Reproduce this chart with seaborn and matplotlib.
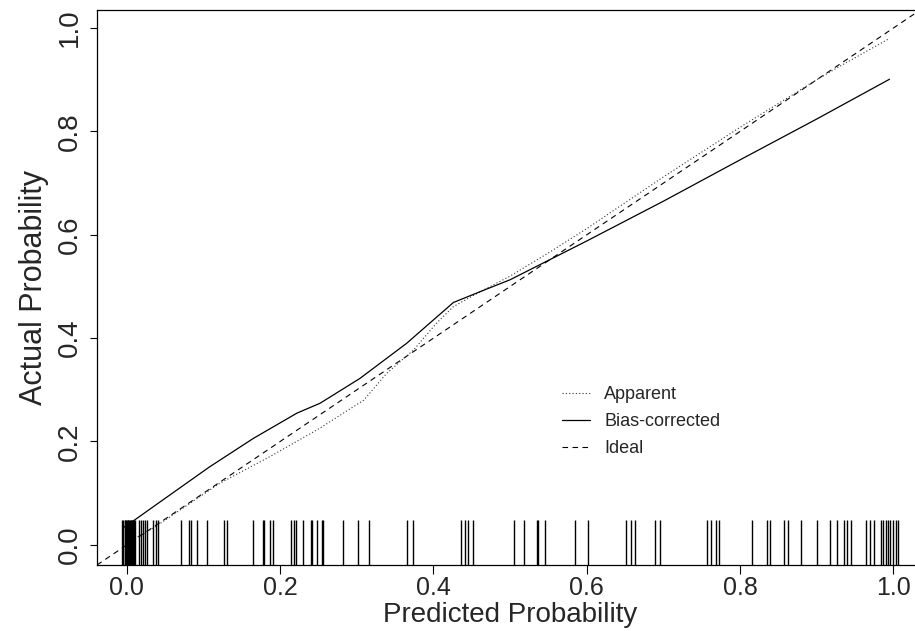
import numpy as np
import pandas as pd
import matplotlib
matplotlib.use("Agg")
import matplotlib.pyplot as plt
import seaborn as sns

# calibration curves
apparent_x = [-0.005, 0.034, 0.121, 0.187, 0.252, 0.309, 0.339, 0.374, 0.404, 0.426,
              0.461, 0.50, 0.55, 0.60, 0.70, 0.80, 0.90, 0.93, 0.995]
apparent_y = [0.000, 0.032, 0.119, 0.171, 0.226, 0.280, 0.332, 0.377, 0.429, 0.461,
              0.490, 0.520, 0.565, 0.612, 0.712, 0.808, 0.900, 0.926, 0.980]

bias_x = [-0.005, 0.010, 0.047, 0.108, 0.165, 0.222, 0.252, 0.304, 0.365, 0.426,
          0.461, 0.50, 0.54, 0.60, 0.70, 0.80, 0.90, 0.995]
bias_y = [0.033, 0.048, 0.087, 0.151, 0.206, 0.255, 0.274, 0.322, 0.390, 0.469,
          0.490, 0.513, 0.543, 0.588, 0.665, 0.745, 0.824, 0.901]

# predicted probabilities shown as the rug
rug_x = [-0.007, -0.005, -0.003, -0.002, -0.001, 0.0, 0.001, 0.002, 0.003, 0.004,
         0.005, 0.006, 0.007, 0.008, 0.009, 0.010, 0.016, 0.019, 0.021, 0.024,
         0.026, 0.034, 0.038, 0.041, 0.070, 0.081, 0.083, 0.092, 0.104, 0.127,
         0.130, 0.164, 0.177, 0.179, 0.187, 0.190, 0.214, 0.218, 0.220, 0.230,
         0.240, 0.242, 0.248, 0.254, 0.256, 0.282, 0.301, 0.316, 0.366, 0.373,
         0.436, 0.441, 0.445, 0.451, 0.505, 0.518, 0.535, 0.537, 0.546, 0.585,
         0.602, 0.651, 0.658, 0.663, 0.689, 0.695, 0.757, 0.762, 0.768, 0.772,
         0.815, 0.835, 0.839, 0.857, 0.862, 0.879, 0.900, 0.917, 0.926, 0.935,
         0.939, 0.945, 0.964, 0.969, 0.975, 0.984, 0.987, 0.990, 0.993, 0.996,
         0.999, 1.003, 1.006]

x_ticks = [0.0, 0.2, 0.4, 0.6, 0.8, 1.0]
y_ticks = [0.0, 0.2, 0.4, 0.6, 0.8, 1.0]

sns.set_style("ticks")
plt.rcParams['font.family'] = ['Liberation Sans', 'DejaVu Sans']

fig = plt.figure(figsize=(9.15, 6.31), dpi=100)
# axes runs past the right edge of the picture, as in the reference
ax = fig.add_axes([97 / 915, 66 / 631, 827 / 915, 555 / 631])

app = pd.DataFrame({"x": apparent_x, "y": apparent_y})
bc = pd.DataFrame({"x": bias_x, "y": bias_y})

ax.axline((0, 0), slope=1, color="black", lw=0.8, linestyle=(0, (5, 4)), label="Ideal")
sns.lineplot(data=app, x="x", y="y", ax=ax, color="#333333", lw=0.8,
             linestyle=(0, (1, 2)), sort=False, estimator=None, label="Apparent")
sns.lineplot(data=bc, x="x", y="y", ax=ax, color="black", lw=0.9,
             sort=False, estimator=None, label="Bias-corrected")
sns.rugplot(x=rug_x, ax=ax, height=0.081, color="black", lw=0.9, expand_margins=False)

ax.set_xlim(-0.039, 1.04)
ax.set_ylim(-0.039, 1.035)
ax.set_xticks(x_ticks)
ax.set_yticks(y_ticks)
ax.set_xticklabels([f"{v:.1f}" for v in x_ticks], fontsize=18)
ax.set_yticklabels([f"{v:.1f}" for v in y_ticks], fontsize=20, rotation=90, va="center")
ax.tick_params(axis="x", length=6.5, width=0.8, pad=1.5, color="black")
ax.tick_params(axis="y", length=5, width=0.8, pad=5, color="black")
ax.set_xlabel("Predicted Probability", fontsize=20, labelpad=1)
ax.set_ylabel("Actual Probability", fontsize=22, labelpad=6)

for s in ["left", "bottom", "top"]:
    ax.spines[s].set_linewidth(0.9)
    ax.spines[s].set_color("black")

handles, labels = ax.get_legend_handles_labels()
order = [labels.index(n) for n in ["Apparent", "Bias-corrected", "Ideal"]]
ax.legend([handles[i] for i in order], [labels[i] for i in order],
          loc="upper left", bbox_to_anchor=(562 / 915, 1 - 386 / 631),
          bbox_transform=fig.transFigure, frameon=False, fontsize=13,
          handlelength=1.55, handletextpad=0.8, labelspacing=0.55,
          borderpad=0, borderaxespad=0)

fig.savefig("out.png", dpi=100)
